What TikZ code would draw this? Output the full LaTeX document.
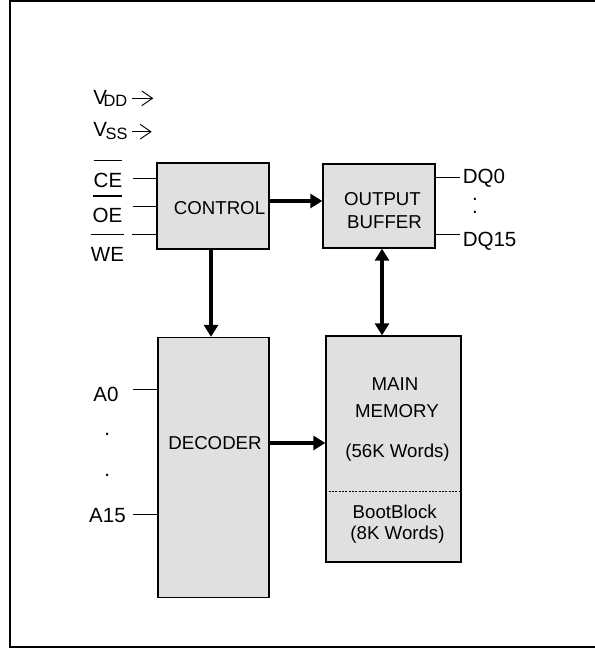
\documentclass[tikz,border=0pt]{standalone}
\usepackage{fontspec}
\setmainfont{Liberation Sans}
\usepackage{xcolor}
\definecolor{BlockGray}{HTML}{E0E0E0}
\usepackage{tikz}
\usetikzlibrary{positioning}
\usetikzlibrary{calc}
\usetikzlibrary{arrows, arrows.meta}
\newcommand{\pinbar}[1]{\setbox0\hbox{#1}\rlap{\rule[19.5pt]{\wd0}{1pt}}\box0}

\begin{document}
\begin{tikzpicture}[
    x=0.75pt, y=-0.75pt,
    >={Triangle[length=9pt,width=10.5pt]},
    blockGray/.style={rectangle,
    draw=black,
    fill=BlockGray,
    line width=1pt,
    inner sep=0pt},
    blockText/.style={inner sep=0pt, anchor=base, font=\fontsize{14}{16}\selectfont},
    pinText/.style={inner sep=0pt, anchor=base, font=\fontsize{15.4}{18}\selectfont},
    pinLine/.style={line width=0.6pt},
    busArrow/.style={line width=2.6pt},
    supplyArrow/.style={line width=0.7pt, -{Straight Barb[length=8pt,width=11pt]}}
    ]
    \useasboundingbox (0,0) rectangle (595,649);
    \draw[line width=1.5pt] (10,1) rectangle (600,647);

    \node[blockGray, minimum width=84pt, minimum height=64.5pt] (ctrl) at (213,206) {};
    \node[blockText] (ctrlText) at (219.5,214.6) {CONTROL};
    \node[blockGray, minimum width=84pt, minimum height=63pt] (outbuf) at (379,206) {};
    \node[blockText] (outbufText1) at (382.5,205.6) {OUTPUT};
    \node[blockText] (outbufText2) at (384.5,228.6) {BUFFER};
    \node[blockGray, minimum width=83.25pt, minimum height=195pt] (dec) at (213.5,467.5) {};
    \node[blockText] (decText) at (215,449.6) {DECODER};
    \node[blockGray, minimum width=101.25pt, minimum height=169.5pt] (mem) at (393.5,449) {};
    \node[blockText] (memText1) at (395,390.5) {MAIN};
    \node[blockText] (memText2) at (397,417.3) {MEMORY};
    \node[blockText] (memText3) at (397.5,457.5) {(56K Words)};
    \node[blockText] (bootText1) at (394.7,518.3) {BootBlock};
    \node[blockText] (bootText2) at (397.5,539.5) {(8K Words)};
    \coordinate (memSplit) at (0,491);
    \draw[line width=0.5pt, dash pattern=on 1.5pt off 1pt] (mem.west |- memSplit) -- (mem.east |- memSplit);

    \draw[busArrow, ->] ([yshift=3.75pt]ctrl.east) -- ([yshift=3.75pt]outbuf.west);
    \draw[busArrow, ->] ([xshift=-1.5pt]ctrl.south) -- ([xshift=-1.5pt]ctrl.south |- dec.north);
    \coordinate (decOut) at ([yshift=18.4pt]dec.east);
    \draw[busArrow, ->] (decOut) -- (decOut -| mem.west);
    \coordinate (bufLink) at ([xshift=2.25pt]outbuf.south);
    \draw[busArrow, <->] (bufLink) -- (bufLink |- mem.north);

    \node[pinText, anchor=base west] (vdd) at (93,104.7) {V\kern-2.5pt\raisebox{-1.5pt}{\fontsize{12.3}{14}\selectfont DD}};
    \coordinate (vddTip) at (153.3,98.3);
    \draw[supplyArrow, shorten <=3.5pt] (vdd.east |- vddTip) -- (vddTip);
    \node[pinText, anchor=base west] (vss) at (93,136.4) {V\kern-1pt\raisebox{-2.5pt}{\fontsize{12.3}{14}\selectfont SS}};
    \coordinate (vssTip) at (151.7,131.7);
    \draw[supplyArrow, shorten <=3pt] (vss.east |- vssTip) -- (vssTip);

    \node[pinText] (ce) at (108,187) {\pinbar{CE}};
    \node[pinText] (oe) at (107.5,222.5) {\pinbar{OE}};
    \node[pinText] (we) at (107.5,261) {\pinbar{WE}};
    \coordinate (ceIn) at (133,178);
    \coordinate (oeIn) at (132.5,206);
    \coordinate (weIn) at (132,234);
    \draw[pinLine] (ceIn) -- (ceIn -| ctrl.west);
    \draw[pinLine] (oeIn) -- (oeIn -| ctrl.west);
    \draw[pinLine] (weIn) -- (weIn -| ctrl.west);

    \node[pinText, anchor=base west] (dq0) at (462.5,184) {DQ0};
    \node[pinText] (dqDot1) at (475,200.5) {.};
    \node[pinText] (dqDot2) at (475,213) {.};
    \node[pinText, anchor=base west] (dq15) at (462.5,246.4) {DQ15};
    \coordinate (dq0Out) at (460,177);
    \coordinate (dq15Out) at (460,234);
    \draw[pinLine] (outbuf.east |- dq0Out) -- (dq0Out);
    \draw[pinLine] (outbuf.east |- dq15Out) -- (dq15Out);

    \node[pinText] (a0) at (106,401) {A0};
    \node[pinText] (aDot1) at (107.3,435.5) {.};
    \node[pinText] (aDot2) at (107.3,476) {.};
    \node[pinText] (a15) at (107.5,522.5) {A15};
    \coordinate (a0In) at (133,389);
    \coordinate (a15In) at (133,514);
    \draw[pinLine] (a0In) -- (a0In -| dec.west);
    \draw[pinLine] (a15In) -- (a15In -| dec.west);
  \end{tikzpicture}
\end{document}
